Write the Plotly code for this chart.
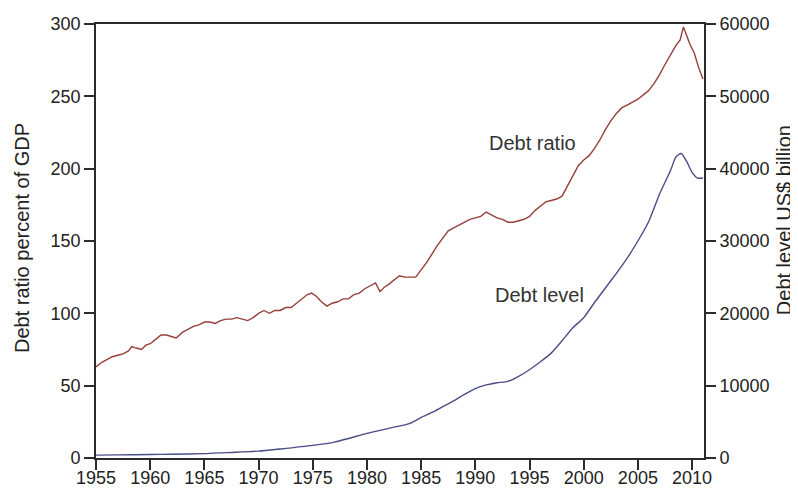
import plotly.graph_objects as go

# Debt ratio, percent of GDP (left axis)
ratio_years = [1955.0, 1955.5, 1956.0, 1956.5, 1957.0, 1957.5, 1958.0, 1958.3, 1958.7, 1959.2,
               1959.6, 1960.0, 1960.5, 1961.0, 1961.5, 1962.0, 1962.4, 1963.0, 1963.5, 1964.0,
               1964.5, 1965.0, 1965.5, 1966.0, 1966.5, 1967.0, 1967.5, 1968.0, 1968.5, 1969.0,
               1969.5, 1970.0, 1970.5, 1971.0, 1971.5, 1972.0, 1972.5, 1973.0, 1973.5, 1974.0,
               1974.5, 1974.9, 1975.3, 1975.8, 1976.3, 1976.8, 1977.3, 1977.8, 1978.3, 1978.8,
               1979.3, 1979.8, 1980.3, 1980.8, 1981.2, 1981.6, 1982.0, 1982.5, 1983.0, 1983.5,
               1984.0, 1984.5, 1985.0, 1985.5, 1986.0, 1986.5, 1987.0, 1987.5, 1988.0, 1988.5,
               1989.0, 1989.5, 1990.0, 1990.5, 1991.0, 1991.5, 1992.0, 1992.5, 1993.0, 1993.5,
               1994.0, 1994.5, 1995.0, 1995.5, 1996.0, 1996.5, 1997.0, 1997.5, 1998.0, 1998.5,
               1999.0, 1999.5, 2000.0, 2000.5, 2001.0, 2001.5, 2002.0, 2002.5, 2003.0, 2003.5,
               2004.0, 2004.5, 2005.0, 2005.5, 2006.0, 2006.5, 2007.0, 2007.5, 2008.0, 2008.5,
               2008.9, 2009.2, 2009.5, 2009.8, 2010.2, 2010.6, 2011.0]
ratio_values = [63, 66, 68, 70, 71, 72, 74, 77, 76, 75,
                78, 79, 82, 85, 85, 84, 83, 87, 89, 91,
                92, 94, 94, 93, 95, 96, 96, 97, 96, 95,
                97, 100, 102, 100, 102, 102, 104, 104, 107, 110,
                113, 114, 112, 108, 105, 107, 108, 110, 110, 113,
                114, 117, 119, 121, 115, 118, 120, 123, 126, 125,
                125, 125, 130, 135, 141, 147, 152, 157, 159, 161,
                163, 165, 166, 167, 170, 168, 166, 165, 163, 163,
                164, 165, 167, 171, 174, 177, 178, 179, 181, 188,
                195, 202, 206, 209, 214, 220, 227, 233, 238, 242,
                244, 246, 248, 251, 254, 259, 265, 272, 279, 285,
                289, 298, 292, 286, 280, 270, 262]

# Debt level, US$ billion (right axis)
level_years = [1955, 1957, 1960, 1962, 1965, 1967, 1970, 1972, 1975, 1977,
               1980, 1982, 1984, 1985, 1986, 1987, 1988, 1989, 1990, 1991,
               1992, 1993, 1994, 1995, 1996, 1997, 1998, 1999, 2000, 2001,
               2002, 2003, 2004, 2005, 2006, 2007, 2008, 2008.5, 2009.0, 2009.5,
               2010.0, 2010.5, 2011.0]
level_values = [400, 430, 480, 520, 600, 750, 950, 1250, 1750, 2200,
                3400, 4100, 4800, 5600, 6300, 7100, 7900, 8800, 9600, 10100,
                10400, 10600, 11300, 12200, 13300, 14500, 16200, 18000, 19400, 21500,
                23500, 25500, 27600, 30000, 32700, 36500, 39700, 41600, 42100, 41000,
                39500, 38700, 38700]

x_ticks = [1955, 1960, 1965, 1970, 1975, 1980, 1985, 1990, 1995, 2000, 2005, 2010]

FONT = "Liberation Sans, Arial, sans-serif"
AX = "#2b2b2b"

fig = go.Figure()
fig.add_trace(go.Scatter(x=ratio_years, y=ratio_values, mode="lines",
                         line=dict(color="#953f3a", width=1.4), name="Debt ratio"))
fig.add_trace(go.Scatter(x=level_years, y=level_values, mode="lines", yaxis="y2",
                         line=dict(color="#4a4d88", width=1.4, shape="spline", smoothing=0.6),
                         name="Debt level"))

fig.update_layout(
    width=790, height=481,
    margin=dict(l=88, r=94, t=16, b=31, autoexpand=False),
    paper_bgcolor="white", plot_bgcolor="white",
    showlegend=False,
    font=dict(family=FONT, size=18, color="#222"),
    xaxis=dict(range=[1955, 2011.1], tickvals=x_ticks, ticks="outside", ticklen=10,
               tickwidth=1.5, tickcolor=AX, showline=True, linecolor=AX, linewidth=1.8,
               mirror=True, showgrid=False, zeroline=False, automargin=False,
               ticklabelstandoff=-8, tickfont=dict(size=18)),
    yaxis=dict(range=[0, 300], dtick=50, ticks="outside", ticklen=10, tickwidth=1.5,
               tickcolor=AX, showline=True, linecolor=AX, linewidth=1.8, showgrid=False,
               zeroline=False, automargin=False, tickfont=dict(size=18)),
    yaxis2=dict(range=[0, 60000], dtick=10000, tickformat="d", overlaying="y", side="right",
                ticks="outside", ticklen=10, tickwidth=1.5, tickcolor=AX, showline=True,
                linecolor=AX, linewidth=1.8, showgrid=False, zeroline=False,
                automargin=False, tickfont=dict(size=18)),
    annotations=[
        dict(x=1995.3, y=218, text="Debt ratio", showarrow=False, xref="x", yref="y",
             font=dict(size=20, color="#333", family=FONT)),
        dict(x=1995.9, y=113, text="Debt level", showarrow=False, xref="x", yref="y",
             font=dict(size=20, color="#333", family=FONT)),
        dict(x=-0.1217, y=0.507, text="Debt ratio percent of GDP", textangle=-90,
             showarrow=False, xref="paper", yref="paper", xanchor="center", yanchor="middle",
             font=dict(size=20, color="#222", family=FONT)),
        dict(x=1.1316, y=0.548, text="Debt level US$ billion", textangle=-90,
             showarrow=False, xref="paper", yref="paper", xanchor="center", yanchor="middle",
             font=dict(size=20, color="#222", family=FONT)),
    ],
)

fig.write_html("out.html")
